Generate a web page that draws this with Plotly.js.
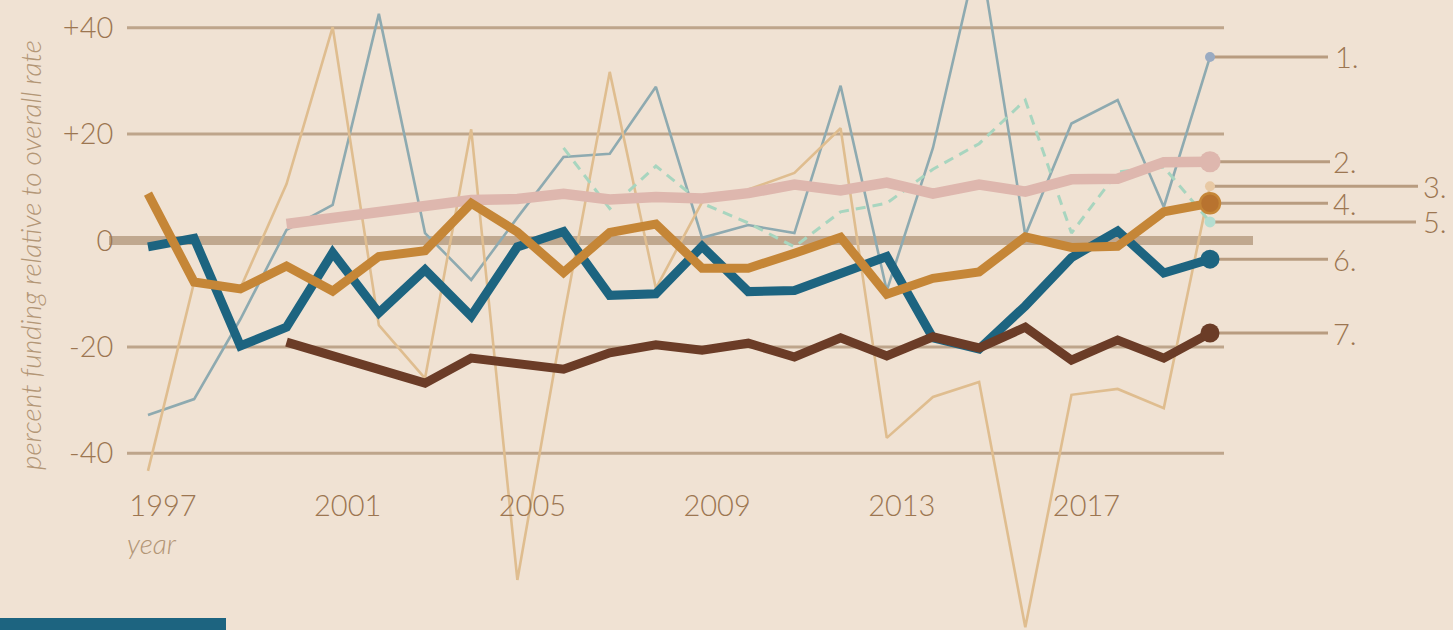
<!DOCTYPE html>
<html><head><meta charset="utf-8">
<script src="https://cdn.plot.ly/plotly-3.0.1.min.js"></script>
<style>html,body{margin:0;padding:0;background:#f0e2d3;overflow:hidden;} #chart{width:1453px;height:630px;}</style>
</head><body><div id="chart"></div>
<script>
// ---- data ----
const years = [1997,1998,1999,2000,2001,2002,2003,2004,2005,2006,2007,2008,2009,2010,2011,2012,2013,2014,2015,2016,2017,2018,2019,2020];
const series1 = [-32.8,-29.8,-14.8,2.0,6.7,42.6,1.4,-7.4,4.3,15.7,16.3,28.9,0.5,2.9,1.4,29.1,-9.4,17.4,55.0,1.0,22.0,26.4,6.3,34.5];
const series2 = [null,null,null,3.1,4.2,5.7,6.8,7.6,7.8,8.8,7.7,8.2,7.9,8.9,10.5,9.4,10.9,8.8,10.5,9.2,11.5,11.6,14.7,14.8];
const series3 = [-43.3,-7.8,-9.0,10.6,40.1,-15.9,-25.9,20.9,-63.8,-14.5,31.7,-9.0,7.2,9.6,12.7,21.1,-37.1,-29.4,-26.6,-72.7,-29.0,-27.9,-31.5,10.2];
const series4 = [8.8,-7.8,-9.1,-4.8,-9.5,-3.0,-1.9,7.0,1.6,-6.0,1.5,3.1,-5.2,-5.2,-2.4,0.6,-10.1,-7.1,-5.9,0.7,-1.3,-1.1,5.4,7.0];
const series5 = [null,null,null,null,null,null,null,null,null,17.4,6.0,14.0,7.0,3.3,-1.2,5.4,7.0,13.4,18.2,26.4,1.4,12.9,13.8,3.5];
const series6 = [-1.2,0.4,-19.8,-16.3,-2.3,-13.6,-5.5,-14.2,-1.2,1.7,-10.3,-10.0,-1.1,-9.6,-9.4,-6.1,-3.0,-18.3,-20.4,-12.3,-3.2,1.8,-6.1,-3.5];
const series7 = [null,null,null,-19.1,-21.7,-24.3,-26.8,-22.1,-23.0,-24.2,-21.1,-19.6,-20.6,-19.3,-21.9,-18.3,-21.7,-18.1,-20.2,-16.3,-22.5,-18.7,-22.1,-17.4];
const seriesLabels = ["1.","2.","3.","4.","5.","6.","7."];
const yTickVals = [-40,-20,0,20,40];
const yTickText = ["-40","-20","0","+20","+40"];
const xTickVals = [1997,2001,2005,2009,2013,2017];
const xTickText = ["1997","2001","2005","2009","2013","2017"];
const yTitle = "percent funding relative to overall rate";
const xTitle = "year";

// ---- layout helpers ----
const W = 1453, H = 630;
const X_RANGE = [1993.795, 2025.263];
const Y_RANGE = [-73.21, 45.21];
const px = v => v / W;          // x pixel -> paper
const py = v => 1 - v / H;      // y pixel -> paper

const BG = '#f0e2d3';
const TXT = '#9c7651';
const FONT = 'Lato, "Open Sans", sans-serif';

const styles = [
  {data: series1, label: seriesLabels[0], color:'#8eaab0', width:2.6, dash:'solid', mcolor:'#9aabc2', msize:10, lineLen:1328, txtX:1333},
  {data: series3, label: seriesLabels[2], color:'#dfbd8f', width:2.6, dash:'solid', mcolor:'#e8c9a4', msize:10, lineLen:1418, txtX:1421},
  {data: series5, label: seriesLabels[4], color:'#a8d5bf', width:3, dash:'10px,7px', mcolor:'#b4ddd0', msize:11, lineLen:1416, txtX:1421},
  {data: series2, label: seriesLabels[1], color:'#deb7ae', width:10.5, dash:'solid', mcolor:'#deb7ae', msize:21, lineLen:1330, txtX:1331},
  {data: series6, label: seriesLabels[5], color:'#1d6480', width:9, dash:'solid', mcolor:'#1d6480', msize:19, lineLen:1328, txtX:1331},
  {data: series7, label: seriesLabels[6], color:'#6b3c27', width:9, dash:'solid', mcolor:'#6b3c27', msize:19, lineLen:1328, txtX:1331},
  {data: series4, label: seriesLabels[3], color:'#c58637', width:9, dash:'solid', mcolor:'#b8732f', msize:20, lineLen:1328, txtX:1331, mline:'#c58637'}
];

const traces = [];
const shapes = [];
const annotations = [];

// gridlines
[-40,-20,20,40].forEach(v => shapes.push({type:'line', layer:'below', xref:'paper', yref:'y',
  x0:px(127), x1:px(1224), y0:v, y1:v, line:{color:'#bea58b', width:3}}));
shapes.push({type:'line', layer:'below', xref:'paper', yref:'y', x0:px(109), x1:px(1253), y0:0, y1:0,
  line:{color:'#c0a88f', width:9}});
// bottom bar
shapes.push({type:'rect', layer:'above', xref:'paper', yref:'paper', x0:0, x1:px(226), y0:0, y1:12/H,
  line:{width:0}, fillcolor:'#1d6480'});

const lastX = years[years.length-1];
styles.forEach(s => {
  const lastY = s.data[s.data.length-1];
  // connector
  shapes.push({type:'line', layer:'below', xref:'x', yref:'y', x0:lastX, y0:lastY,
    x1: X_RANGE[0] + s.lineLen/W*(X_RANGE[1]-X_RANGE[0]), y1:lastY, line:{color:'#b89c80', width:3}});
  traces.push({x:years, y:s.data, type:'scatter', mode:'lines', connectgaps:false,
    line:{color:s.color, width:s.width, dash:s.dash, shape:'linear'}, hoverinfo:'skip', showlegend:false});
  traces.push({x:[lastX], y:[lastY], type:'scatter', mode:'markers',
    marker:{color:s.mcolor, size:s.msize, line:{color:s.mline||s.mcolor, width:s.mline?2.5:0}},
    hoverinfo:'skip', showlegend:false});
  annotations.push({xref:'paper', yref:'y', x:px(s.txtX), y:lastY, xanchor:'left', yanchor:'middle',
    text:s.label, showarrow:false, font:{family:FONT, size:29, color:TXT, weight:300}});
});

annotations.push({xref:'paper', yref:'paper', x:px(30), y:py(255), text:yTitle, textangle:-90,
  showarrow:false, xanchor:'center', yanchor:'middle',
  font:{family:FONT, size:28, color:'#b39676', style:'italic', weight:300}});
annotations.push({xref:'paper', yref:'paper', x:px(152), y:py(543), text:xTitle,
  showarrow:false, xanchor:'center', yanchor:'middle',
  font:{family:FONT, size:28, color:'#b39676', style:'italic', weight:300}});

const layout = {
  width:W, height:H, margin:{l:0,r:0,t:0,b:0,pad:0},
  paper_bgcolor:BG, plot_bgcolor:BG, showlegend:false,
  xaxis:{range:X_RANGE, anchor:'free', position:0.229, showgrid:false, zeroline:false, showline:false,
    ticks:'', tickvals:xTickVals, ticktext:xTickText, ticklabelshift:15, automargin:false,
    tickfont:{family:FONT, size:29, color:TXT, weight:300}, fixedrange:true},
  yaxis:{range:Y_RANGE, anchor:'free', position:0.078, showgrid:false, zeroline:false, showline:false,
    ticks:'', tickvals:yTickVals, ticktext:yTickText, automargin:false,
    tickfont:{family:FONT, size:29, color:TXT, weight:300}, fixedrange:true},
  shapes:shapes, annotations:annotations
};

Plotly.newPlot('chart', traces, layout, {displayModeBar:false, staticPlot:true});
</script></body></html>
